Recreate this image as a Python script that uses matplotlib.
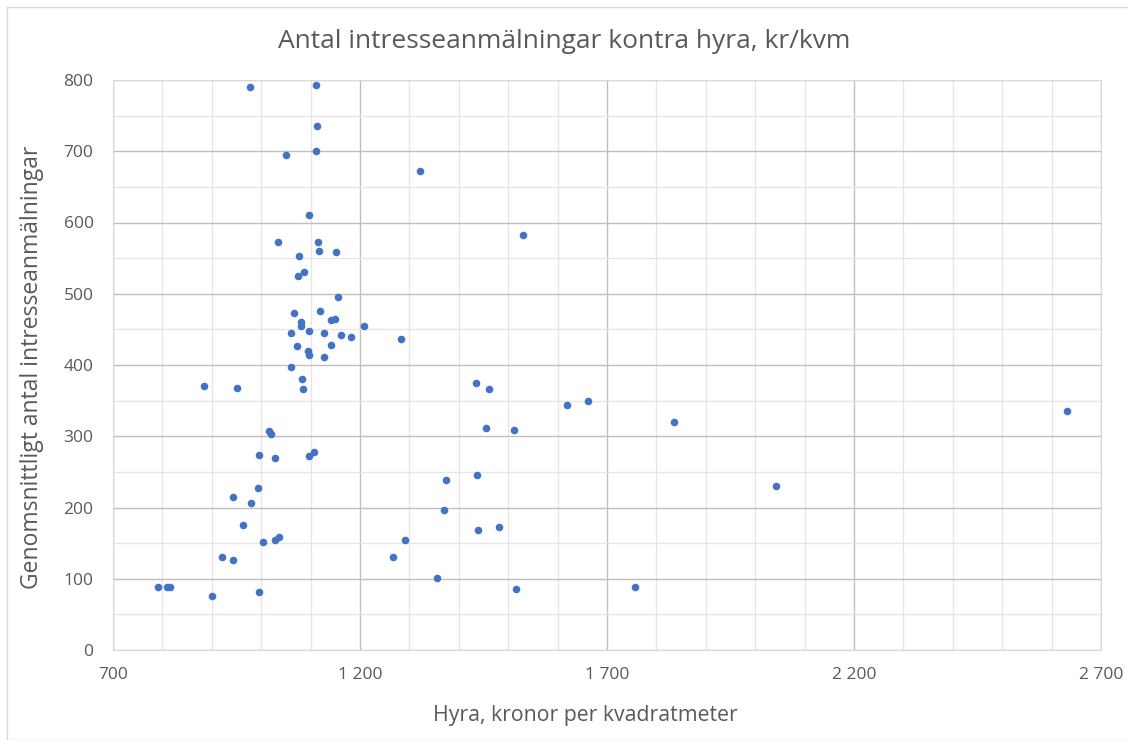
import numpy as np
import matplotlib.pyplot as plt
from matplotlib.ticker import MultipleLocator, FuncFormatter
from matplotlib.patches import Rectangle

###############################################################################
#Data
###############################################################################
hyra = [977, 1110, 1112, 1110, 1051, 1321, 1096, 1035, 1114, 1116,
        1151, 1077, 1087, 1074, 1156, 1066, 1120, 1142, 1150, 1080,
        1080, 1208, 1060, 1097, 1128, 1161, 1182, 1282, 1072, 1141,
        1095, 1096, 1128, 1061, 1083, 1085, 885, 951, 1016, 1019,
        996, 1027, 1096, 1106, 1374, 993, 943, 979, 1370, 963,
        1004, 1027, 1037, 1291, 1266, 920, 942, 1355, 792, 809,
        816, 901, 995, 1530, 1435, 1462, 1620, 1661, 1456, 1512,
        1835, 1436, 1438, 1482, 1515, 1756, 2043, 2631]

intresse = [790, 793, 735, 701, 695, 672, 611, 572, 573, 560,
            558, 553, 531, 525, 495, 473, 476, 463, 465, 460,
            455, 455, 445, 448, 445, 442, 439, 436, 427, 428,
            420, 414, 411, 397, 380, 367, 371, 368, 307, 303,
            274, 270, 272, 278, 238, 228, 215, 206, 196, 175,
            151, 154, 158, 154, 130, 131, 126, 101, 89, 88,
            88, 76, 82, 583, 375, 366, 344, 350, 311, 309,
            320, 246, 169, 172, 86, 89, 230, 336]

xticks = [700, 1200, 1700, 2200, 2700]

###############################################################################
#Plot
###############################################################################
plt.rcParams['font.family'] = ["Open Sans", "DejaVu Sans"]
textcol = "#595959"

fig = plt.figure(figsize = (11.28, 7.4), dpi = 100)
ax = fig.add_axes([113/1128, 1 - 650/740, (1101 - 113)/1128, (650 - 80)/740])

#Chart border
fig.patches.append(Rectangle((7/1128, 0), 1, 1 - 7/740, transform = fig.transFigure,
                             fill = False, edgecolor = "#d9d9d9", linewidth = 1))

ax.scatter(hyra, intresse, s = 30, color = "#4472C4", zorder = 3, linewidths = 0)

#Limits and ticks
ax.set_xlim(700, 2700)
ax.set_ylim(0, 800)
ax.set_xticks(xticks)
ax.xaxis.set_minor_locator(MultipleLocator(100))
ax.yaxis.set_major_locator(MultipleLocator(100))
ax.yaxis.set_minor_locator(MultipleLocator(50))
ax.xaxis.set_major_formatter(FuncFormatter(lambda v, p: f"{int(v):,}".replace(",", " ")))

ax.grid(which = "major", color = "#bfbfbf", linewidth = 1)
ax.grid(which = "minor", color = "#e6e6e6", linewidth = 1)
ax.set_axisbelow(True)

ax.tick_params(which = "both", length = 0, labelsize = 12.5, labelcolor = textcol)
ax.tick_params(axis = "x", pad = 12)
ax.tick_params(axis = "y", pad = 14)

for s in ax.spines.values():
    s.set_color("#d9d9d9")

#Texts
fig.text(0.5, 1 - 42/740, "Antal intresseanmälningar kontra hyra, kr/kvm",
         ha = "center", va = "center", fontsize = 19, color = textcol)
fig.text(585/1128, 1 - 716/740, "Hyra, kronor per kvadratmeter",
         ha = "center", va = "center", fontsize = 15.3, color = textcol)
fig.text(32/1128, 1 - 367/740, "Genomsnittligt antal intresseanmälningar",
         ha = "center", va = "center", rotation = 90, fontsize = 16.5, color = textcol)

fig.savefig("out.png", dpi = 100)
